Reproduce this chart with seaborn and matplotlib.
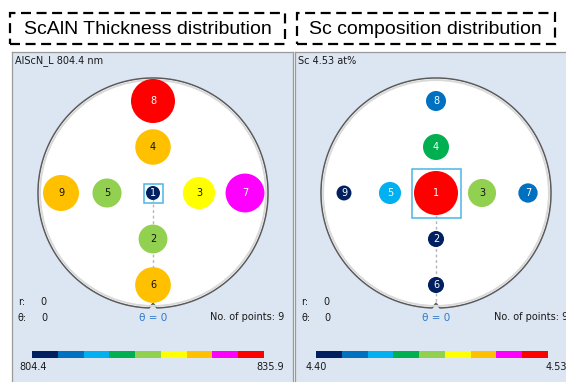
import numpy as np
import pandas as pd
import matplotlib
matplotlib.use("Agg")
import matplotlib.pyplot as plt
import seaborn as sns
from matplotlib.colors import ListedColormap
from matplotlib.patches import Polygon, Rectangle, Circle

# ---- measurement data -------------------------------------------------------
point_ids = [1, 2, 3, 4, 5, 6, 7, 8, 9]
wafer_x = [0, 0, 40, 0, -40, 0, 80, 0, -80]      # site positions (mm)
wafer_y = [0, -40, 0, 40, 0, -80, 0, 80, 0]
thickness_nm = [804.4, 820.0, 823.5, 827.0, 820.2, 827.2, 830.5, 835.9, 827.5]
sc_at_pct = [4.530, 4.409, 4.461, 4.452, 4.435, 4.409, 4.423, 4.426, 4.404]
thickness_range = [804.4, 835.9]
sc_range = [4.40, 4.53]
range_labels_left = ["804.4", "835.9"]
range_labels_right = ["4.40", "4.53"]
level_colors = ["#002060", "#0070C0", "#00B0F0", "#00B050", "#92D050",
                "#FFFF00", "#FFC000", "#FF00FF", "#FF0000"]
dark_text_levels = {4, 5, 6}
titles = ["ScAlN Thickness distribution", "Sc composition distribution"]
headers = ["AlScN_L 804.4 nm", "Sc 4.53 at%"]

W, H = 566, 382
DPI = 100
WAFER_R = 100.0          # wafer radius in mm
PX_PER_MM = 115 / WAFER_R

sns.set_theme(style="white")
plt.rcParams["font.family"] = ["DejaVu Sans"]

fig = plt.figure(figsize=(W / DPI, H / DPI), dpi=DPI)
fig.patch.set_facecolor("white")


def px_axes(x0, y0, w, h, **kw):
    """Axes placed by its top-left corner in pixel units."""
    return fig.add_axes([x0 / W, 1 - (y0 + h) / H, w / W, h / H], **kw)


def draw_panel(x0, width, wafer_cx, values, vrange, header, range_labels,
               bar_x0, bar_x1, npts_x, npts_ha, left_label_x, right_label_x,
               right_label_ha):
    y0 = 52
    h = H - y0 + 1
    pan = px_axes(x0, y0, width, h)
    pan.set_facecolor("#DCE5F2")
    pan.set_xlim(x0, x0 + width)
    pan.set_ylim(y0 + h, y0)
    pan.set_xticks([])
    pan.set_yticks([])
    for s in pan.spines.values():
        s.set_color("#9A9A9A")
        s.set_linewidth(0.9)

    tk = dict(fontsize=7, color="#1A1A1A", va="center", clip_on=True)
    pan.text(x0 + 3, 61, header, ha="left", **tk)
    pan.text(x0 + 6, 302, "r:", ha="left", **tk)
    pan.text(x0 + 28, 302, "0", ha="left", **tk)
    pan.text(x0 + 6, 318, "θ:", ha="left", **tk)
    pan.text(x0 + 29, 318, "0", ha="left", **tk)
    pan.text(wafer_cx, 318, "θ = 0", ha="center", va="center",
             fontsize=7.5, color="#2E7BC9")
    pan.text(npts_x, 317, "No. of points: 9", ha=npts_ha, **tk)
    pan.text(left_label_x, 367, range_labels[0], ha="left", **tk)
    pan.text(right_label_x, 367, range_labels[1], ha=right_label_ha, **tk)

    # colour scale strip
    cax = px_axes(bar_x0, 351, bar_x1 - bar_x0, 7)
    sns.heatmap(np.arange(len(level_colors)).reshape(1, -1),
                cmap=ListedColormap(level_colors), vmin=-0.5,
                vmax=len(level_colors) - 0.5, cbar=False, ax=cax,
                xticklabels=False, yticklabels=False)
    cax.set_xlabel("")
    cax.set_ylabel("")

    # wafer map
    half = 125
    wax = px_axes(wafer_cx - half, 193 - half, 2 * half, 2 * half)
    lim = half / PX_PER_MM
    wax.set_xlim(-lim, lim)
    wax.set_ylim(-lim, lim)
    wax.set_axis_off()
    wax.patch.set_alpha(0)

    notch_w, notch_h = 3.5, 4.0
    d = np.degrees(np.arcsin(notch_w / WAFER_R))
    t = np.radians(np.linspace(-90 + d, 270 - d, 500))
    outline = np.column_stack([WAFER_R * np.cos(t), WAFER_R * np.sin(t)])
    outline = np.vstack([outline, [0, -WAFER_R + notch_h]])
    wax.add_patch(Polygon(outline, closed=True, facecolor="white",
                          edgecolor="#5A5A5A", linewidth=1.1, zorder=1))
    wax.add_patch(Circle((0, 0), WAFER_R - 1.8, facecolor="none",
                         edgecolor="#D9D9D9", linewidth=1.4, zorder=1.1))
    wax.plot([0, 0], [0, -WAFER_R + notch_h], color="#B5B5B5", lw=1,
             linestyle=(0, (2, 2)), zorder=1.5)

    vmin, vmax = vrange
    frac = np.clip((np.asarray(values) - vmin) / (vmax - vmin), 0, 1)
    level = np.minimum((frac * len(level_colors)).astype(int),
                       len(level_colors) - 1)
    radius_px = 7 + 15 * frac
    df = pd.DataFrame({"x": wafer_x, "y": wafer_y, "id": point_ids,
                       "level": level, "value": values})
    sns.scatterplot(data=df, x="x", y="y", hue="level",
                    palette={i: c for i, c in enumerate(level_colors)},
                    s=(2 * radius_px * 72 / DPI) ** 2, linewidth=0,
                    legend=False, ax=wax, zorder=3)
    wax.set_xlabel("")
    wax.set_ylabel("")
    for xi, yi, pid, lv in zip(df["x"], df["y"], df["id"], df["level"]):
        wax.text(xi, yi, str(pid), ha="center", va="center", fontsize=7,
                 color="#111111" if lv in dark_text_levels else "white",
                 zorder=4)

    # selected site marker
    sel = 0
    hs = (radius_px[sel] + 2.5) / PX_PER_MM
    wax.add_patch(Rectangle((wafer_x[sel] - hs, wafer_y[sel] - hs), 2 * hs,
                            2 * hs, facecolor="none", edgecolor="#4CB5E5",
                            linewidth=1.1, zorder=5))


draw_panel(12, 281, 153, thickness_nm, thickness_range, headers[0],
           range_labels_left, 32, 264, 284, "right", 19, 284, "right")
draw_panel(295, 272, 436, sc_at_pct, sc_range, headers[1],
           range_labels_right, 316, 548, 494, "left", 306, 546, "left")

# dashed title boxes
for (bx0, bx1, tx), title in zip([(10, 285, 147.5), (297, 555, 425)], titles):
    fig.patches.append(Rectangle((bx0 / W, 1 - 44 / H), (bx1 - bx0) / W,
                                 31 / H, transform=fig.transFigure,
                                 facecolor="none", edgecolor="black",
                                 linewidth=1.6, linestyle=(0, (4.5, 2.5))))
    fig.text(tx / W, 1 - 29 / H, title, ha="center", va="center",
             fontsize=14, family=["Liberation Sans", "DejaVu Sans"],
             color="black")

fig.savefig("out.png", dpi=DPI)
